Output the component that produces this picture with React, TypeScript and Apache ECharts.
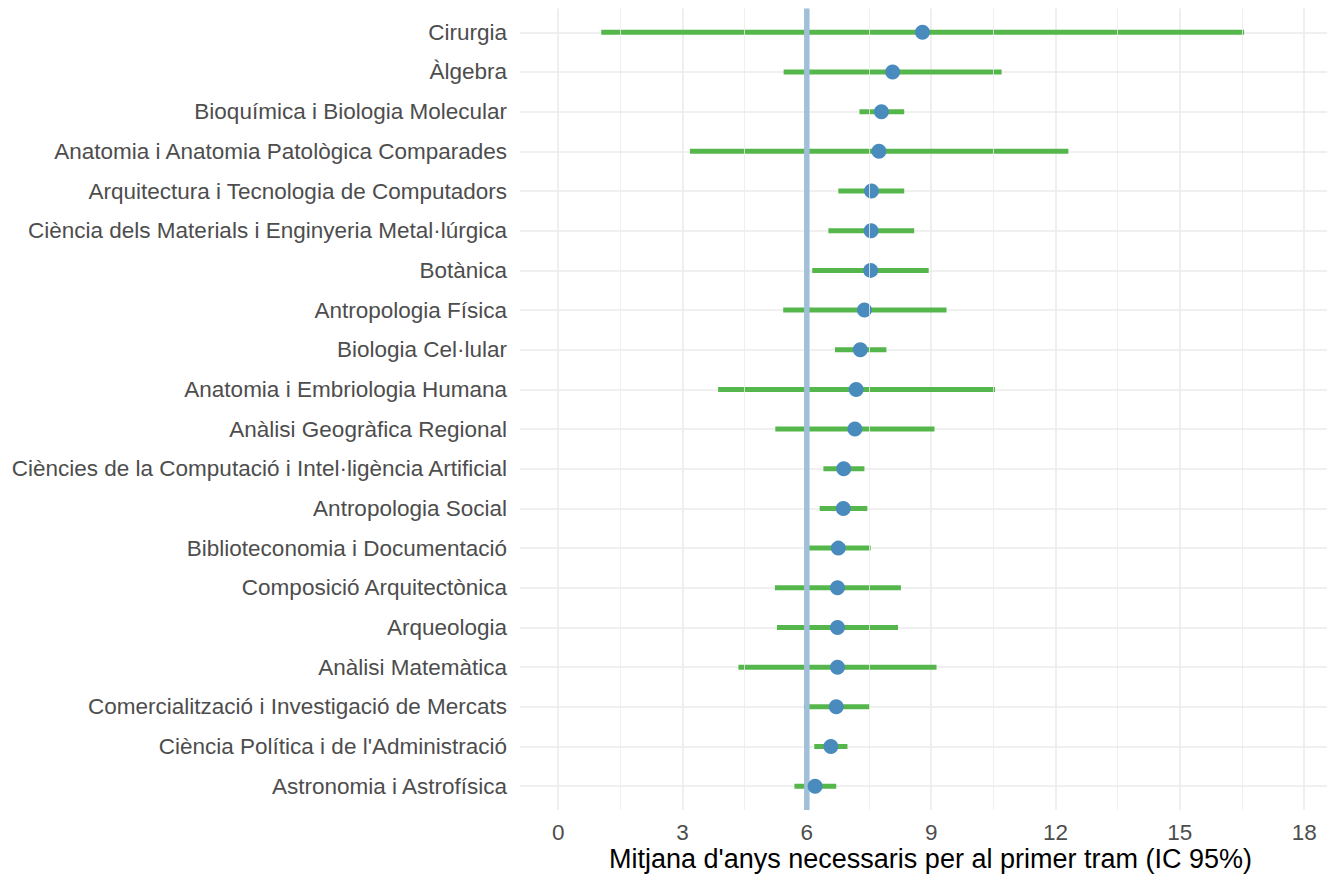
import React, { useEffect, useRef } from "react";
import * as echarts from "echarts";

const categories = [
  "Cirurgia",
  "Àlgebra",
  "Bioquímica i Biologia Molecular",
  "Anatomia i Anatomia Patològica Comparades",
  "Arquitectura i Tecnologia de Computadors",
  "Ciència dels Materials i Enginyeria Metal·lúrgica",
  "Botànica",
  "Antropologia Física",
  "Biologia Cel·lular",
  "Anatomia i Embriologia Humana",
  "Anàlisi Geogràfica Regional",
  "Ciències de la Computació i Intel·ligència Artificial",
  "Antropologia Social",
  "Biblioteconomia i Documentació",
  "Composició Arquitectònica",
  "Arqueologia",
  "Anàlisi Matemàtica",
  "Comercialització i Investigació de Mercats",
  "Ciència Política i de l'Administració",
  "Astronomia i Astrofísica",
];

const means = [8.79, 8.07, 7.8, 7.74, 7.56, 7.55, 7.54, 7.39, 7.29, 7.19, 7.16, 6.89, 6.88, 6.76, 6.74, 6.74, 6.74, 6.71, 6.58, 6.2];
const lows = [1.04, 5.44, 7.27, 3.18, 6.76, 6.52, 6.13, 5.43, 6.68, 3.86, 5.24, 6.4, 6.31, 5.98, 5.23, 5.28, 4.35, 5.93, 6.18, 5.7];
const highs = [16.55, 10.7, 8.35, 12.31, 8.35, 8.59, 8.94, 9.37, 7.92, 10.54, 9.08, 7.39, 7.46, 7.54, 8.27, 8.2, 9.13, 7.52, 6.98, 6.71];

const referenceValue = 6;
const majorTicks = [0, 3, 6, 9, 12, 15, 18];
const minorTicks = [1.5, 4.5, 7.5, 10.5, 13.5, 16.5];
const xTitle = "Mitjana d'anys necessaris per al primer tram (IC 95%)";

const FONT = "'Liberation Sans', Arial, sans-serif";

export default function App() {
  const ref = useRef<HTMLDivElement>(null);
  useEffect(() => {
    if (!ref.current) return;
    const chart = echarts.init(ref.current, null, { renderer: "svg" });
    const rowIdx = categories.map((_, i) => i);
    const option: any = {
      animation: false,
      backgroundColor: "#ffffff",
      grid: { left: 520, right: 6, top: 8.5, bottom: 66, containLabel: false, outerBoundsMode: "none" },
      xAxis: {
        type: "value",
        min: -0.92,
        max: 18.55,
        axisLine: { show: false },
        axisTick: { show: false, customValues: majorTicks },
        axisLabel: {
          customValues: majorTicks,
          color: "#4d4d4d",
          fontSize: 22.5,
          lineHeight: 22,
          fontFamily: FONT,
          margin: 11,
        },
        splitLine: { show: true, lineStyle: { color: "#ebebeb", width: 1.6 } },
        name: xTitle,
        nameLocation: "middle",
        nameGap: 35,
        nameMoveOverlap: false,
        nameTextStyle: { color: "#000000", fontSize: 27, fontFamily: FONT, lineHeight: 28, padding: [0, 0, 0, 14] },
      },
      yAxis: {
        type: "value",
        inverse: true,
        min: -0.6,
        max: 19.6,
        axisLine: { show: false },
        axisTick: { show: false, customValues: rowIdx },
        axisLabel: {
          customValues: rowIdx,
          formatter: (v: number) => categories[Math.round(v)] ?? "",
          color: "#4d4d4d",
          fontSize: 22.5,
          fontFamily: FONT,
          margin: 13,
        },
        splitLine: { show: true, lineStyle: { color: "#ebebeb", width: 1.6 } },
      },
      series: [
        {
          type: "line",
          silent: true,
          data: [],
          z: 1,
          markLine: {
            silent: true,
            symbol: ["none", "none"],
            label: { show: false },
            lineStyle: { color: "#ebebeb", width: 0.8, type: "solid" },
            data: minorTicks.map((v) => ({ xAxis: v })),
          },
        },
        {
          type: "custom",
          z: 2,
          silent: true,
          data: categories.map((_, i) => [lows[i], highs[i], i]),
          encode: { x: [0, 1], y: 2 },
          renderItem: (params: any, api: any) => {
            const p1 = api.coord([api.value(0), api.value(2)]);
            const p2 = api.coord([api.value(1), api.value(2)]);
            return {
              type: "line",
              shape: { x1: p1[0], y1: p1[1], x2: p2[0], y2: p2[1] },
              style: { stroke: "#55b74b", lineWidth: 5, lineCap: "butt" },
            };
          },
        },
        {
          type: "line",
          z: 3,
          silent: true,
          showSymbol: false,
          symbol: "none",
          data: [
            [referenceValue, -0.6],
            [referenceValue, 19.6],
          ],
          lineStyle: { color: "#a0bfd9", width: 5.5 },
        },
        {
          type: "scatter",
          z: 4,
          silent: true,
          symbol: "circle",
          symbolSize: 15,
          itemStyle: { color: "#4a8bbe", opacity: 1 },
          data: categories.map((_, i) => [means[i], i]),
        },
      ],
    };
    chart.setOption(option);
    return () => chart.dispose();
  }, []);
  return <div ref={ref} style={{ width: 1333, height: 876, position: "absolute", left: 0, top: 0 }} />;
}
